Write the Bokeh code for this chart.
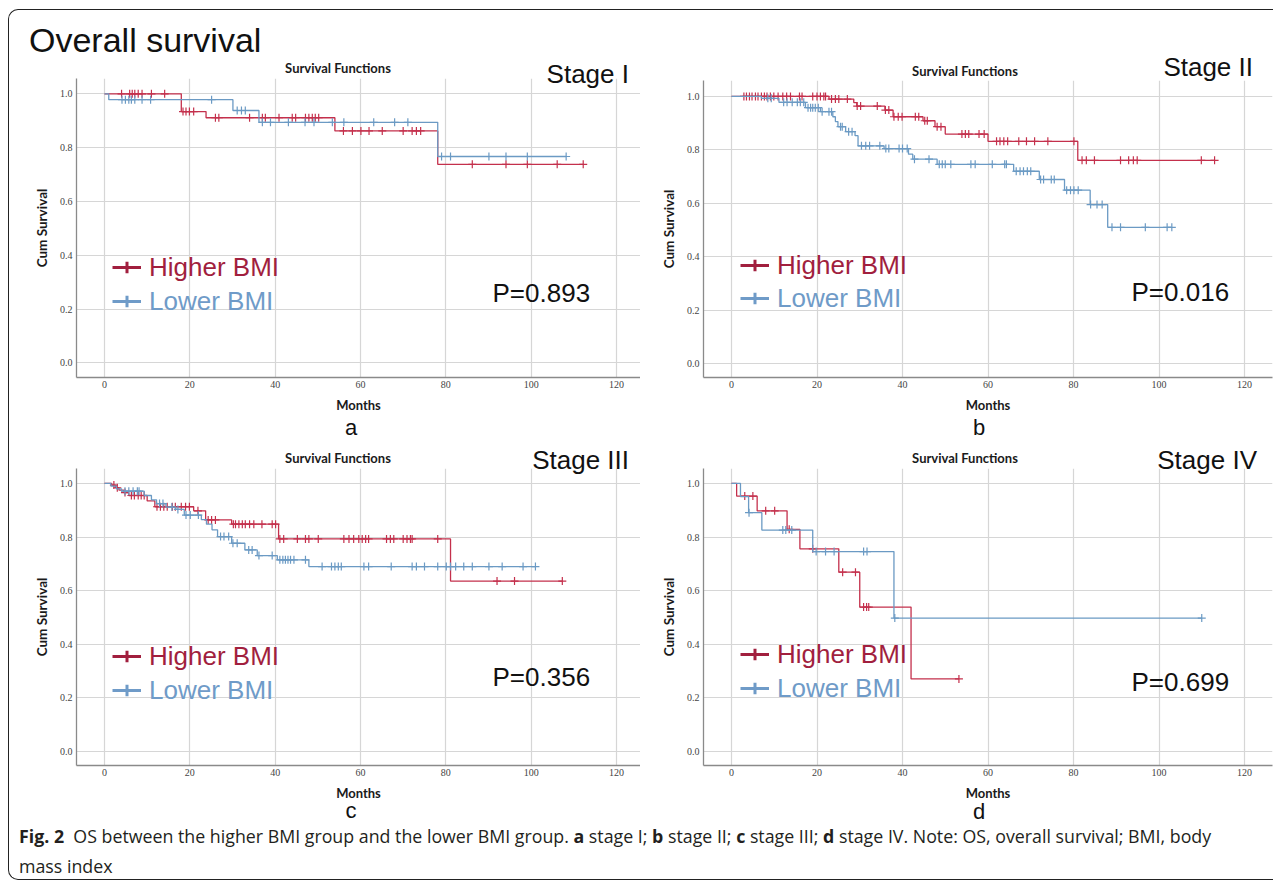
from bokeh.plotting import figure
from bokeh.models import Label, Legend, LegendItem, Range1d, Div, PrintfTickFormatter
from bokeh.layouts import column, row
from bokeh.embed import file_html
from bokeh.resources import INLINE

# ---------------- data ----------------
x_ticks = [0, 20, 40, 60, 80, 100, 120]
y_ticks = [0.0, 0.2, 0.4, 0.6, 0.8, 1.0]
groups = ["Higher BMI", "Lower BMI"]
stages = ["Stage I", "Stage II", "Stage III", "Stage IV"]
panel_letters = ["a", "b", "c", "d"]
p_values = ["P=0.893", "P=0.016", "P=0.356", "P=0.699"]
main_title = "Overall survival"
panel_title = "Survival Functions"
caption_line1 = ('<b>Fig. 2</b>&nbsp; OS between the higher BMI group and the lower BMI group. '
                 '<b>a</b> stage I; <b>b</b> stage II; <b>c</b> stage III; <b>d</b> stage IV. '
                 'Note: OS, overall survival; BMI, body')
caption_line2 = 'mass index'

# Stage I
a_hi_t = [18.0, 23.8, 54.0, 78.1]
a_hi_s = [0.934, 0.911, 0.862, 0.738]
a_hi_end = 112.2
a_hi_c = [4.0, 5.9, 6.5, 7.1, 7.9, 8.8, 11.0, 14.1, 18.4, 19.1, 19.9, 20.9, 26.0, 26.8,
          34.0, 37.0, 37.7, 40.9, 44.0, 44.8, 47.1, 47.9, 48.7, 49.4, 50.2, 56.0, 58.1,
          60.1, 62.0, 65.1, 70.0, 72.1, 73.1, 74.1, 86.2, 94.1, 99.1, 106.1, 112.2]
a_lo_t = [1.0, 30.1, 36.2, 78.1]
a_lo_s = [0.978, 0.938, 0.894, 0.767]
a_lo_end = 108.2
a_lo_c = [4.1, 4.9, 5.7, 6.3, 7.1, 8.8, 10.8, 25.1, 31.1, 32.1, 33.0, 37.0, 38.9, 43.1,
          47.0, 49.1, 53.4, 56.1, 63.1, 68.0, 71.1, 79.0, 81.1, 90.1, 94.1, 99.1, 108.2]

# Stage II
b_hi_t = [22.8, 28.6, 29.3, 35.9, 37.8, 44.8, 47.6, 50.0, 60.0, 81.0]
b_hi_s = [0.990, 0.977, 0.964, 0.949, 0.924, 0.909, 0.887, 0.859, 0.832, 0.761]
b_hi_end = 113.0
b_hi_c = [2.9, 3.5, 4.2, 4.8, 5.6, 6.2, 7.0, 7.7, 8.3, 9.1, 9.9, 10.9, 12.0, 12.9, 13.8,
          15.9, 16.5, 19.0, 20.0, 20.8, 21.6, 22.0, 23.4, 24.3, 25.1, 27.1, 29.4, 30.2,
          34.1, 36.0, 36.8, 38.0, 39.0, 39.9, 43.0, 43.8, 45.2, 45.8, 48.1, 49.0, 53.9,
          54.7, 55.5, 57.9, 59.1, 62.0, 62.8, 63.7, 64.6, 67.2, 69.0, 70.9, 74.0, 80.1,
          82.0, 83.0, 84.9, 91.0, 92.9, 94.0, 94.9, 109.9, 113.0]
b_lo_t = [7.0, 11.1, 17.3, 20.8, 23.7, 24.3, 24.9, 26.7, 28.9, 29.6, 35.7, 41.4, 42.4,
          48.1, 66.0, 72.0, 77.9, 83.9, 88.0]
b_lo_s = [0.993, 0.978, 0.958, 0.943, 0.924, 0.906, 0.887, 0.868, 0.853, 0.815, 0.805,
          0.784, 0.765, 0.746, 0.720, 0.689, 0.649, 0.595, 0.510]
b_lo_end = 103.0
b_lo_c = [8.5, 9.3, 12.2, 13.0, 14.2, 15.4, 16.1, 16.9, 17.9, 18.5, 19.0, 19.6, 20.3, 21.2,
          22.8, 23.4, 25.5, 25.9, 27.4, 28.2, 30.4, 31.4, 32.3, 34.7, 36.1, 36.8, 39.2,
          40.0, 41.1, 42.8, 46.2, 48.6, 49.3, 50.0, 51.3, 56.0, 57.0, 61.0, 63.9, 64.3,
          66.6, 67.5, 68.3, 69.2, 70.0, 72.3, 73.0, 74.8, 75.5, 78.4, 79.3, 80.1, 81.1,
          84.0, 85.5, 86.7, 89.0, 91.0, 96.8, 101.9, 103.0]

# Stage III
c_hi_t = [1.7, 2.6, 3.4, 4.5, 5.7, 10.0, 11.8, 20.9, 23.7, 29.8, 40.8, 81.1]
c_hi_s = [0.994, 0.984, 0.975, 0.966, 0.955, 0.935, 0.913, 0.898, 0.864, 0.848, 0.793, 0.636]
c_hi_end = 107.3
c_hi_c = [2.2, 3.0, 4.8, 6.3, 7.0, 7.9, 8.6, 9.3, 12.3, 13.1, 13.9, 14.7, 15.9, 16.6, 18.0,
          19.0, 19.9, 21.9, 24.3, 25.1, 26.0, 30.2, 30.7, 31.5, 32.3, 33.0, 34.0, 35.0,
          36.9, 39.3, 40.1, 41.1, 42.0, 45.2, 47.1, 47.9, 50.1, 56.1, 57.3, 58.4, 59.6,
          60.4, 61.2, 61.9, 66.1, 67.0, 67.8, 70.0, 70.9, 71.7, 72.1, 78.1, 92.0, 96.1, 107.3]
c_lo_t = [1.5, 2.8, 4.0, 9.3, 11.0, 12.2, 14.4, 16.7, 18.7, 22.7, 23.9, 25.2, 26.5, 29.8,
          32.9, 35.8, 40.5, 47.9]
c_lo_s = [0.990, 0.980, 0.971, 0.955, 0.939, 0.925, 0.912, 0.903, 0.882, 0.865, 0.848,
          0.827, 0.802, 0.777, 0.752, 0.731, 0.715, 0.690]
c_lo_end = 101.0
c_lo_c = [4.8, 5.7, 6.7, 7.7, 8.1, 12.9, 13.7, 15.8, 17.2, 19.1, 20.1, 22.0, 27.2, 28.0,
          29.1, 30.1, 31.1, 33.8, 34.6, 36.2, 39.3, 41.1, 41.8, 42.4, 43.0, 43.6, 44.4,
          47.1, 51.0, 53.2, 54.0, 54.8, 55.5, 60.8, 61.9, 67.2, 72.1, 73.1, 75.0, 78.1,
          80.1, 81.1, 82.3, 84.2, 86.2, 90.1, 93.2, 98.1, 101.0]

# Stage IV
d_hi_t = [1.2, 6.0, 13.0, 16.0, 25.1, 30.0, 42.0]
d_hi_s = [0.953, 0.898, 0.829, 0.756, 0.669, 0.539, 0.271]
d_hi_end = 53.2
d_hi_c = [3.1, 5.0, 8.0, 10.1, 13.5, 19.0, 26.0, 29.0, 30.9, 31.6, 32.1, 53.2]
d_lo_t = [2.1, 4.0, 7.1, 19.0, 38.0]
d_lo_s = [0.951, 0.891, 0.826, 0.746, 0.498]
d_lo_end = 110.0
d_lo_c = [4.1, 12.0, 12.7, 14.1, 19.8, 22.0, 24.0, 30.9, 31.7, 38.2, 110.0]

panels = [
    ((a_hi_t, a_hi_s, a_hi_end, a_hi_c), (a_lo_t, a_lo_s, a_lo_end, a_lo_c)),
    ((b_hi_t, b_hi_s, b_hi_end, b_hi_c), (b_lo_t, b_lo_s, b_lo_end, b_lo_c)),
    ((c_hi_t, c_hi_s, c_hi_end, c_hi_c), (c_lo_t, c_lo_s, c_lo_end, c_lo_c)),
    ((d_hi_t, d_hi_s, d_hi_end, d_hi_c), (d_lo_t, d_lo_s, d_lo_end, d_lo_c)),
]

# ---------------- styles / layout ----------------
LINE_RED = "#c4304c"
LINE_BLUE = "#6b9ac4"
TXT_RED = "#a11f3e"
TXT_BLUE = "#6f9bc8"
GRID = "#d6d6d6"
INK = "#111111"
ARIAL = "'Liberation Sans', Arial, sans-serif"
BOLDSANS = "Lato, 'Open Sans', sans-serif"

# page-pixel geometry (layout only). Content origin of the page block: (9, 10)
geo = [
    dict(x=9, w=631, head=(10, 78), main=(78, 415), foot=(415, 440),
         fl=76, fr=640, fb=377, m0=104, mpx=512 / 120, v0=362.3, vpx=269.0,
         title=(338, 68), stage=(629, 74), pv=(492, 292), letter=(351, 428), leg=(112, 268, 302)),
    dict(x=640, w=633, head=(10, 80), main=(80, 415), foot=(415, 440),
         fl=703, fr=1272, fb=378, m0=731, mpx=513 / 120, v0=364.0, vpx=268.0,
         title=(965, 71), stage=(1253, 67), pv=(1131, 292), letter=(979, 428), leg=(740, 267, 300)),
    dict(x=9, w=631, head=(440, 468), main=(468, 803), foot=(803, 823),
         fl=76, fr=640, fb=766, m0=104, mpx=512 / 120, v0=752.0, vpx=269.0,
         title=(338, 458), stage=(629, 460), pv=(492, 677), letter=(351, 811), leg=(112, 658, 692)),
    dict(x=640, w=633, head=(440, 468), main=(468, 803), foot=(803, 823),
         fl=703, fr=1272, fb=766, m0=731, mpx=513 / 120, v0=752.0, vpx=269.0,
         title=(965, 458), stage=(1257, 460), pv=(1131, 682), letter=(979, 812), leg=(740, 656, 690)),
]
caption_box = dict(x=9, y0=823, y1=879, left=19, line1=837, line2=867)


def steps(times, surv, end):
    xs = [0.0] + list(times) + [end]
    ys = [1.0] + list(surv) + [surv[-1]]
    return xs, ys


def surv_at(times, surv, t):
    s = 1.0
    for ti, si in zip(times, surv):
        if t >= ti:
            s = si
    return s


def span(x, y, text, size, font, align="left", weight="normal", color=INK):
    tx = {"left": "0", "center": "-50%", "right": "-100%"}[align]
    return (f'<span style="position:absolute; left:{x}px; top:{y}px; '
            f'transform:translate({tx},-50%); font-family:{font}; font-size:{size}px; '
            f'font-weight:{weight}; line-height:1; white-space:nowrap; color:{color};">{text}</span>')


def text_band(w, h, spans, on_top=False):
    html = (f'<div style="position:relative; width:{w}px; height:{h}px; overflow:visible; '
            f'margin:0; padding:0;">' + "".join(spans) + '</div>')
    st = {"overflow": "visible", "padding": "0", "margin": "0"}
    if on_top:
        st.update({"position": "relative", "z-index": "5"})
    return Div(text=html, width=w, height=h, margin=0, styles=st)


cols = []
for i, (g, (hi, lo)) in enumerate(zip(geo, panels)):
    # ---- header band (its text may hang over the top of the plot frame) ----
    h0, h1 = g["head"]
    hs = []
    tx, ty = g["title"]
    hs.append(span(tx - g["x"], ty - h0, panel_title, 13, BOLDSANS, "center", "bold", "#1a1a1a"))
    sx, sy = g["stage"]
    hs.append(span(sx - g["x"], sy - h0, stages[i], 26, ARIAL, "right"))
    if i == 0:
        hs.append(span(29 - g["x"], 40 - h0, main_title, 34, ARIAL, "left"))
    head = text_band(g["w"], h1 - h0, hs, on_top=True)

    # ---- main KM plot ----
    m0, m1 = g["main"]
    dx = lambda px, g=g: (px - g["m0"]) / g["mpx"]
    dy = lambda py, g=g: (g["v0"] - py) / g["vpx"]
    p = figure(width=g["w"], height=m1 - m0,
               x_range=Range1d(dx(g["fl"]), dx(g["fr"])),
               y_range=Range1d(dy(g["fb"]), dy(m0)),
               output_backend="svg", toolbar_location=None,
               min_border_left=g["fl"] - g["x"], min_border_right=g["x"] + g["w"] - g["fr"],
               min_border_top=0, min_border_bottom=m1 - g["fb"],
               background_fill_color="white", border_fill_color="white")
    p.outline_line_color = None
    p.xaxis.ticker = x_ticks
    p.yaxis.ticker = y_ticks
    p.xgrid.ticker = x_ticks
    p.ygrid.ticker = y_ticks
    p.yaxis.formatter = PrintfTickFormatter(format="%.1f")
    for grid in (p.xgrid, p.ygrid):
        grid.grid_line_color = GRID
        grid.grid_line_width = 1.2
    for ax in (p.xaxis, p.yaxis):
        ax.axis_line_color = "#8a8a8a"
        ax.axis_line_width = 1.3
        ax.major_tick_in = 0
        ax.major_tick_out = 0
        ax.minor_tick_line_color = None
        ax.major_label_text_font = "Liberation Serif"
        ax.major_label_text_font_size = "10px"
        ax.major_label_text_color = "#444444"
        ax.axis_label_text_font = "Lato"
        ax.axis_label_text_font_style = "bold"
        ax.axis_label_text_color = "#1a1a1a"
    p.xaxis.axis_label = "Months"
    p.yaxis.axis_label = "Cum Survival"
    p.xaxis.axis_label_text_font_size = "13px"
    p.yaxis.axis_label_text_font_size = "13.5px"
    p.xaxis.major_label_standoff = 3
    p.xaxis.axis_label_standoff = 6
    p.yaxis.major_label_standoff = 4
    p.yaxis.axis_label_standoff = 7

    leg_r = []
    for (t, s, end, cens), col, tcol in ((hi, LINE_RED, TXT_RED), (lo, LINE_BLUE, TXT_BLUE)):
        xs, ys = steps(t, s, end)
        cy = [surv_at(t, s, c) for c in cens]
        p.step(xs, ys, mode="after", line_color=col, line_width=1.3)
        p.scatter(cens, cy, marker="cross", size=8, line_color=col, line_width=1.2)
        # hidden copies that only supply the (thicker) legend symbol
        ln = p.line(xs, ys, line_color=tcol, line_width=3, visible=False)
        mk = p.scatter(cens, cy, marker="cross", line_color=tcol, line_width=3, visible=False)
        leg_r.append((ln, mk))

    gl, r1, r2 = g["leg"]
    for name, tcol, rc, rends in ((groups[0], TXT_RED, r1, leg_r[0]), (groups[1], TXT_BLUE, r2, leg_r[1])):
        leg = Legend(items=[LegendItem(label=name, renderers=list(rends))],
                     location=(gl - g["fl"], g["fb"] - (rc + 15)),
                     glyph_width=29, glyph_height=32, label_height=30, label_standoff=8,
                     padding=0, margin=0, spacing=0, border_line_color=None,
                     background_fill_alpha=0, label_text_font="Liberation Sans",
                     label_text_font_size="26px", label_text_color=tcol)
        p.add_layout(leg)

    px_, py_ = g["pv"]
    p.add_layout(Label(x=dx(px_), y=dy(py_), text=p_values[i], text_align="left",
                       text_baseline="middle", text_font="Liberation Sans",
                       text_font_size="26px", text_color=INK))

    # ---- footer band (panel letter) ----
    f0, f1 = g["foot"]
    lx, ly = g["letter"]
    foot = text_band(g["w"], f1 - f0,
                     [span(lx - g["x"], ly - f0, panel_letters[i], 22, ARIAL, "center")])
    cols.append(column(head, p, foot, spacing=0))

cb = caption_box
caption = text_band(1264, cb["y1"] - cb["y0"], [
    span(cb["left"] - cb["x"], cb["line1"] - cb["y0"], caption_line1, 17.8,
         "'Open Sans', sans-serif", "left", "normal", "#231f20"),
    span(cb["left"] - cb["x"], cb["line2"] - cb["y0"], caption_line2, 17.8,
         "'Open Sans', sans-serif", "left", "normal", "#231f20"),
])

layout = column(row(cols[0], cols[1]), row(cols[2], cols[3]), caption,
                styles={"margin-left": "8px", "margin-top": "9px",
                        "border": "1px solid #222222", "border-right": "none",
                        "border-radius": "10px 0 0 10px"})

open("out.html", "w").write(file_html(layout, INLINE))
